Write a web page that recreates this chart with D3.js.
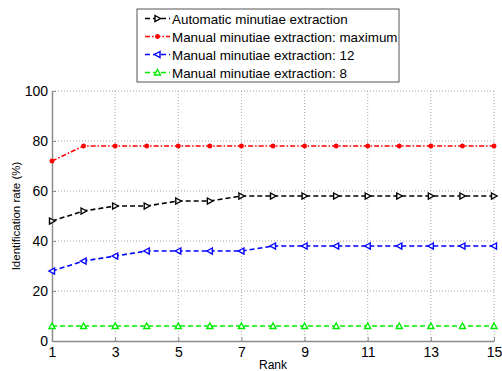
<!DOCTYPE html>
<html>
<head>
<meta charset="utf-8">
<script src="https://cdn.jsdelivr.net/npm/d3@7"></script>
<style>
  body { margin: 0; background: #fff; }
  svg { font-family: Arial, "Liberation Sans", sans-serif; }
</style>
</head>
<body>
<div id="chart"></div>
<script>

const ranks = d3.range(1, 16)
const automatic = [48, 52, 54, 54, 56, 56, 58, 58, 58, 58, 58, 58, 58, 58, 58]
const manualMax = [72, 78, 78, 78, 78, 78, 78, 78, 78, 78, 78, 78, 78, 78, 78]
const manual12 = [28, 32, 34, 36, 36, 36, 36, 38, 38, 38, 38, 38, 38, 38, 38]
const manual8 = [6, 6, 6, 6, 6, 6, 6, 6, 6, 6, 6, 6, 6, 6, 6]
const xTicks = [1, 3, 5, 7, 9, 11, 13, 15]
const yTicks = [0, 20, 40, 60, 80, 100]

const series = [
  { name: 'Automatic minutiae extraction', values: automatic, color: '#000000', dash: '5,3', marker: 'right' },
  { name: 'Manual minutiae extraction: maximum', values: manualMax, color: '#ff0000', dash: '5,2,1.5,2', marker: 'star' },
  { name: 'Manual minutiae extraction: 12', values: manual12, color: '#0000ff', dash: '5,3', marker: 'left' },
  { name: 'Manual minutiae extraction: 8', values: manual8, color: '#00ee00', dash: '5,3', marker: 'up' }
]

const width = 502, height = 371
const margin = { left: 52, right: 8, top: 91, bottom: 30 }
const w = width - margin.left - margin.right
const h = height - margin.top - margin.bottom

const svg = d3.select('#chart').append('svg')
  .attr('width', width)
  .attr('height', height)

const chart = svg.append('g')
  .attr('transform', 'translate(' + margin.left + ',' + margin.top + ')')

const x = d3.scaleLinear().domain([1, 15]).range([0, w])
const y = d3.scaleLinear().domain([0, 100]).range([h, 0])

// grid
chart.append('g')
  .selectAll('line')
  .data(xTicks.slice(1))
  .enter().append('line')
    .attr('x1', d => x(d)).attr('x2', d => x(d))
    .attr('y1', 0).attr('y2', h)
    .attr('stroke', '#a8a8a8')
    .attr('stroke-dasharray', '1,2')

chart.append('g')
  .selectAll('line')
  .data(yTicks.slice(1))
  .enter().append('line')
    .attr('x1', 0).attr('x2', w)
    .attr('y1', d => y(d)).attr('y2', d => y(d))
    .attr('stroke', '#a8a8a8')
    .attr('stroke-dasharray', '1,2')

// axes
function styleAxis(g) {
  g.select('.domain').attr('stroke', '#8c8c8c').attr('stroke-width', 1.5)
  g.selectAll('.tick line').attr('stroke', '#8c8c8c')
  g.selectAll('.tick text')
    .attr('fill', '#000')
    .style('font-size', '14px')
    .style('font-family', 'Arial, "Liberation Sans", sans-serif')
}

chart.append('g')
  .attr('transform', 'translate(0,' + h + ')')
  .call(d3.axisBottom(x).tickValues(xTicks).tickSizeInner(-4).tickSizeOuter(0).tickPadding(6))
  .call(styleAxis)

chart.append('g')
  .call(d3.axisLeft(y).tickValues(yTicks).tickSizeInner(-4).tickSizeOuter(0).tickPadding(4))
  .call(styleAxis)

svg.append('text')
  .attr('x', margin.left + w / 2)
  .attr('y', 369)
  .attr('text-anchor', 'middle')
  .style('font-size', '12px')
  .text('Rank')

svg.append('text')
  .attr('transform', 'translate(20,' + (margin.top + h / 2) + ') rotate(-90)')
  .attr('text-anchor', 'middle')
  .style('font-size', '11.5px')
  .text('Identification rate (%)')

// markers
const markerPath = {
  right: 'M-2.5,-3L3,0L-2.5,3Z',
  left: 'M2.5,-3L-3,0L2.5,3Z',
  up: 'M-3,2.5L0,-3L3,2.5Z',
  star: 'M-2.5,0L2.5,0M0,-2.5L0,2.5M-1.8,-1.8L1.8,1.8M-1.8,1.8L1.8,-1.8'
}

function drawMarker(g, s) {
  g.append('path')
    .attr('d', markerPath[s.marker])
    .attr('fill', s.marker === 'star' ? 'none' : '#fff')
    .attr('stroke', s.color)
    .attr('stroke-width', 1.4)
}

const line = d3.line()
  .x((d, i) => x(ranks[i]))
  .y(d => y(d))

series.forEach(s => {
  const g = chart.append('g')
  g.append('path')
    .attr('d', line(s.values))
    .attr('fill', 'none')
    .attr('stroke', s.color)
    .attr('stroke-width', 1.6)
    .attr('stroke-dasharray', s.dash)
  g.selectAll('.pt')
    .data(s.values)
    .enter().append('g')
      .attr('class', 'pt')
      .attr('transform', (d, i) => 'translate(' + x(ranks[i]) + ',' + y(d) + ')')
      .each(function() { drawMarker(d3.select(this), s) })
})

// legend
const legend = svg.append('g').attr('transform', 'translate(137,9)')
legend.append('rect')
  .attr('width', 262).attr('height', 73)
  .attr('fill', '#fff')
  .attr('stroke', '#555')

series.forEach((s, i) => {
  const ly = 9.5 + i * 18
  const row = legend.append('g').attr('transform', 'translate(0,' + ly + ')')
  row.append('line')
    .attr('x1', 8).attr('x2', 33)
    .attr('stroke', s.color)
    .attr('stroke-width', 1.6)
    .attr('stroke-dasharray', s.dash)
  const m = row.append('g').attr('transform', 'translate(20.5,0)')
  drawMarker(m, s)
  row.append('text')
    .attr('x', 35)
    .attr('y', 5)
    .style('font-size', '13.4px')
    .text(s.name)
})

</script>
</body>
</html>
